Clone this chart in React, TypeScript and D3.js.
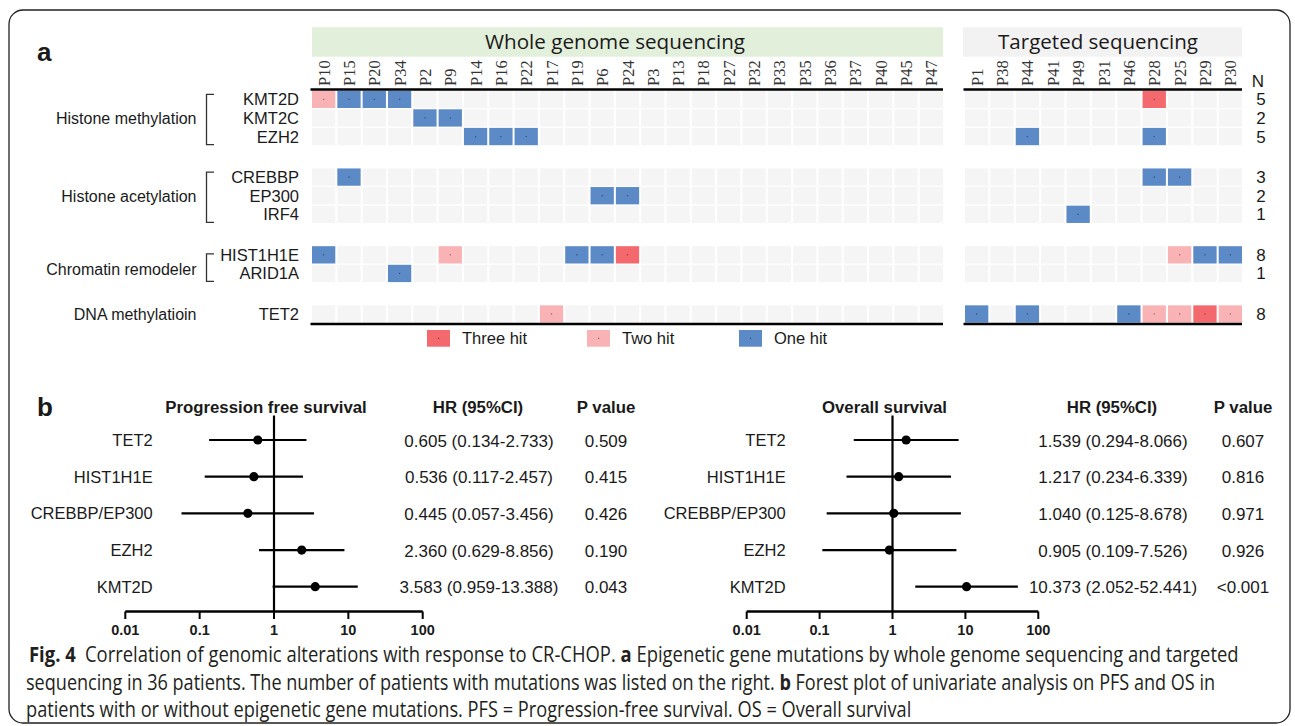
import React, { useLayoutEffect, useRef, useState } from "react";
import * as d3 from "d3";

// ---- heatmap data ----
const wgsPatients = ["P10", "P15", "P20", "P34", "P2", "P9", "P14", "P16", "P22", "P17", "P19", "P6", "P24", "P3", "P13", "P18", "P27", "P32", "P33", "P35", "P36", "P37", "P40", "P45", "P47"];
const tsPatients = ["P1", "P38", "P44", "P41", "P49", "P31", "P46", "P28", "P25", "P29", "P30"];
const genes = ["KMT2D", "KMT2C", "EZH2", "CREBBP", "EP300", "IRF4", "HIST1H1E", "ARID1A", "TET2"];
const geneGroup = [0, 0, 0, 1, 1, 1, 2, 2, 3];
const groups = ["Histone methylation", "Histone acetylation", "Chromatin remodeler", "DNA methylatioin"];
const groupHasBracket = [true, true, true, false];
const geneCounts = [5, 2, 5, 3, 2, 1, 8, 1, 8];

// [gene, patient, hits]
const mutations: [string, string, number][] = [
  ["KMT2D", "P10", 2], ["KMT2D", "P15", 1], ["KMT2D", "P20", 1], ["KMT2D", "P34", 1], ["KMT2D", "P28", 3],
  ["KMT2C", "P2", 1], ["KMT2C", "P9", 1],
  ["EZH2", "P14", 1], ["EZH2", "P16", 1], ["EZH2", "P22", 1], ["EZH2", "P44", 1], ["EZH2", "P28", 1],
  ["CREBBP", "P15", 1], ["CREBBP", "P28", 1], ["CREBBP", "P25", 1],
  ["EP300", "P6", 1], ["EP300", "P24", 1],
  ["IRF4", "P49", 1],
  ["HIST1H1E", "P10", 1], ["HIST1H1E", "P9", 2], ["HIST1H1E", "P19", 1], ["HIST1H1E", "P6", 1], ["HIST1H1E", "P24", 3],
  ["HIST1H1E", "P25", 2], ["HIST1H1E", "P29", 1], ["HIST1H1E", "P30", 1],
  ["ARID1A", "P34", 1],
  ["TET2", "P17", 2], ["TET2", "P1", 1], ["TET2", "P44", 1], ["TET2", "P46", 1], ["TET2", "P28", 2],
  ["TET2", "P25", 2], ["TET2", "P29", 3], ["TET2", "P30", 2],
];
const hitLabels = ["Three hit", "Two hit", "One hit"];
const hitLevels = [3, 2, 1];

// ---- forest plot data ----
const forestGenes = ["TET2", "HIST1H1E", "CREBBP/EP300", "EZH2", "KMT2D"];
const pfsHR = [0.605, 0.536, 0.445, 2.36, 3.583];
const pfsLow = [0.134, 0.117, 0.057, 0.629, 0.959];
const pfsHigh = [2.733, 2.457, 3.456, 8.856, 13.388];
const pfsP = ["0.509", "0.415", "0.426", "0.190", "0.043"];
const osHR = [1.539, 1.217, 1.04, 0.905, 10.373];
const osLow = [0.294, 0.234, 0.125, 0.109, 2.052];
const osHigh = [8.066, 6.339, 8.678, 7.526, 52.441];
const osP = ["0.607", "0.816", "0.971", "0.926", "<0.001"];
const axisTicks = [0.01, 0.1, 1, 10, 100];

const SANS = "Liberation Sans, Arimo, Arial, sans-serif";
const INK = "#1a1a1a";

const hitColor = d3.scaleOrdinal<number, string>().domain([3, 2, 1]).range(["#f4696e", "#f9b3b5", "#5b8ac6"]);

// columns
const xWgs = d3.scaleBand<string>().domain(wgsPatients).range([312, 943]).paddingInner(0.08).paddingOuter(0);
const xTs = d3.scaleBand<string>().domain(tsPatients).range([965, 1242]).paddingInner(0.08).paddingOuter(0);
// rows: slot index -> y (groups separated by an extra gap)
const rowSlot = d3.scaleLinear().domain([0, 1]).range([90.7, 109.3]);
const GROUP_GAP = 1.18;
const rowTop = (i: number) => rowSlot(i + geneGroup[i] * GROUP_GAP);
const CELL_H = 17.3;

const fmt3 = d3.format(".3f");
const hrText = (hr: number, lo: number, hi: number) => `${fmt3(hr)} (${fmt3(lo)}-${fmt3(hi)})`;

// squeezes a caption line horizontally to a given width (the original uses a condensed face)
function FitLine({ x, y, width, children }: { x: number; y: number; width: number; children: React.ReactNode }) {
  const ref = useRef<SVGTextElement>(null);
  const [k, setK] = useState(1);
  useLayoutEffect(() => {
    const w = ref.current ? ref.current.getComputedTextLength() : 0;
    if (w > 0) setK(width / w);
  }, [width]);
  return (
    <text ref={ref} x={0} y={0} transform={`translate(${x},${y}) scale(${k},1)`}>{children}</text>
  );
}

function Forest({ title, x, hr, lo, hi, pv, labelRight, hrCenter, pCenter }: {
  title: string; x: d3.ScaleLogarithmic<number, number>; hr: number[]; lo: number[]; hi: number[]; pv: string[];
  labelRight: number; hrCenter: number; pCenter: number;
}) {
  const y = d3.scalePoint<string>().domain(forestGenes).range([440, 586.7]);
  const axisY = 611.5;
  const [x0, x1] = x.range();
  return (
    <g>
      <text x={(x0 + x1) / 2 - 8} y={412.5} textAnchor="middle" fontWeight="bold" fontSize={16.8} fill={INK}>{title}</text>
      <text x={hrCenter - 1} y={412.5} textAnchor="middle" fontWeight="bold" fontSize={16.8} fill={INK}>HR (95%CI)</text>
      <text x={pCenter} y={412.5} textAnchor="middle" fontWeight="bold" fontSize={16.8} fill={INK}>P value</text>
      <line x1={x(1)} x2={x(1)} y1={415.5} y2={axisY} stroke="#000" strokeWidth={2.2} />
      {forestGenes.map((g, i) => (
        <g key={g}>
          <text x={labelRight} y={y(g)! + 6} textAnchor="end" fontSize={16.5} fill={INK}>{g}</text>
          <line x1={x(lo[i])} x2={x(hi[i])} y1={y(g)} y2={y(g)} stroke="#000" strokeWidth={2.2} />
          <circle cx={x(hr[i])} cy={y(g)} r={4.6} fill="#000" />
          <text x={hrCenter} y={y(g)! + 6.5} textAnchor="middle" fontSize={17} fill={INK}>{hrText(hr[i], lo[i], hi[i])}</text>
          <text x={pCenter} y={y(g)! + 6.5} textAnchor="middle" fontSize={17} fill={INK}>{pv[i]}</text>
        </g>
      ))}
      <line x1={x0} x2={x1} y1={axisY} y2={axisY} stroke="#000" strokeWidth={2.6} />
      {axisTicks.map((t) => (
        <g key={t}>
          <line x1={x(t)} x2={x(t)} y1={axisY} y2={axisY + 7.5} stroke="#000" strokeWidth={2} />
          <text x={x(t)} y={635} textAnchor="middle" fontWeight="bold" fontSize={14.5} fill={INK}>{String(t)}</text>
        </g>
      ))}
    </g>
  );
}

export default function App() {
  const cellKey = new Map(mutations.map(([g, p, h]) => [`${g}|${p}`, h]));
  const blocks: { patients: string[]; x: d3.ScaleBand<string> }[] = [
    { patients: wgsPatients, x: xWgs },
    { patients: tsPatients, x: xTs },
  ];
  const xPfs = d3.scaleLog().domain([0.01, 100]).range([125.3, 422.7]);
  const xOs = d3.scaleLog().domain([0.01, 100]).range([746.7, 1038.3]);

  const groupRows = groups.map((_, gi) => genes.map((_, i) => i).filter((i) => geneGroup[i] === gi));
  const lastRowBottom = rowTop(genes.length - 1) + CELL_H;

  return (
    <svg width={1295} height={726} style={{ position: "absolute", left: 0, top: 0, background: "#fff", fontFamily: SANS }}>
      <rect x={9} y={10} width={1281} height={713} rx={14} fill="#fff" stroke="#222" strokeWidth={1.3} />

      {/* panel a */}
      <text x={37} y={61} fontSize={26} fontWeight="bold" fill={INK}>a</text>
      <rect x={312} y={27.3} width={631} height={29.4} fill="#e2efda" />
      <text x={615} y={49} textAnchor="middle" style={{ fontFamily: "Open Sans, sans-serif" }} fontSize={20} textLength={260} lengthAdjust="spacingAndGlyphs" fill={INK}>Whole genome sequencing</text>
      <rect x={963} y={27.3} width={279} height={29.4} fill="#f2f2f2" />
      <text x={1098} y={49} textAnchor="middle" style={{ fontFamily: "Open Sans, sans-serif" }} fontSize={20} textLength={200} lengthAdjust="spacingAndGlyphs" fill={INK}>Targeted sequencing</text>

      {blocks.map(({ patients, x }, bi) => (
        <g key={bi}>
          {patients.map((p) => {
            const cx = x(p)! + x.bandwidth() / 2 + 6;
            return (
              <text key={p} x={cx} y={86} transform={`rotate(-90, ${cx}, 86)`} style={{ fontFamily: "Liberation Serif, serif" }} fontSize={16.5} fill="#333">{p}</text>
            );
          })}
          {genes.map((g, gi) =>
            patients.map((p) => {
              const h = cellKey.get(`${g}|${p}`);
              const x0 = x(p)!;
              const y0 = rowTop(gi);
              return (
                <g key={`${g}-${p}`}>
                  <rect x={x0} y={y0} width={x.bandwidth()} height={CELL_H} fill={h ? hitColor(h) : "#f5f5f5"} />
                  {h ? <rect x={x0 + x.bandwidth() / 2 - 0.6} y={y0 + CELL_H / 2 - 0.6} width={1.2} height={1.2} fill="rgba(0,0,0,0.45)" /> : null}
                </g>
              );
            })
          )}
          <line x1={x.range()[0] - 1.5} x2={x.range()[1]} y1={89.5} y2={89.5} stroke="#000" strokeWidth={2.6} />
          <line x1={x.range()[0] - 1.5} x2={x.range()[1]} y1={lastRowBottom + 1.3} y2={lastRowBottom + 1.3} stroke="#000" strokeWidth={2.6} />
        </g>
      ))}

      {/* gene labels and counts */}
      {genes.map((g, i) => (
        <g key={g}>
          <text x={299} y={rowTop(i) + CELL_H / 2 + 6} textAnchor="end" fontSize={16.5} fill={INK}>{g}</text>
          <text x={1261} y={rowTop(i) + CELL_H / 2 + 6} textAnchor="middle" fontSize={17} fill={INK}>{geneCounts[i]}</text>
        </g>
      ))}
      <text x={1258} y={87} textAnchor="middle" fontSize={17} fill={INK}>N</text>

      {/* group labels with brackets */}
      {groups.map((name, gi) => {
        const rows = groupRows[gi];
        const top = rowTop(rows[0]) + CELL_H / 2;
        const bot = rowTop(rows[rows.length - 1]) + CELL_H / 2;
        const mid = (top + bot) / 2 + (rows.length === 2 ? 5 : 0);
        const bTop = rows.length === 2 ? top - 1 : top - 5;
        const bBot = bot + 8;
        return (
          <g key={name}>
            <text x={196.5} y={mid + 6} textAnchor="end" fontSize={16} fill={INK}>{name}</text>
            {groupHasBracket[gi] ? (
              <path d={`M214,${bTop}H206.5V${bBot}H214`} fill="none" stroke="#333" strokeWidth={1.3} />
            ) : null}
          </g>
        );
      })}

      {/* legend */}
      {hitLevels.map((h, i) => {
        const lx = [427, 587, 739][i];
        return (
          <g key={h}>
            <rect x={lx} y={330} width={23} height={16.7} fill={hitColor(h)} />
            <rect x={lx + 11} y={337.8} width={1.2} height={1.2} fill="rgba(0,0,0,0.45)" />
            <text x={lx + 35} y={344} fontSize={16.5} fill={INK}>{hitLabels[i]}</text>
          </g>
        );
      })}

      {/* panel b */}
      <text x={37} y={416} fontSize={26} fontWeight="bold" fill={INK}>b</text>
      <Forest title="Progression free survival" x={xPfs} hr={pfsHR} lo={pfsLow} hi={pfsHigh} pv={pfsP} labelRight={152.7} hrCenter={479} pCenter={606} />
      <Forest title="Overall survival" x={xOs} hr={osHR} lo={osLow} hi={osHigh} pv={osP} labelRight={785.7} hrCenter={1113} pCenter={1243} />

      {/* caption */}
      <g style={{ fontFamily: "Open Sans, sans-serif" }} fontSize={21} fill="#231f20">
        <FitLine x={29} y={662} width={1210}>
          <tspan fontWeight="bold">Fig. 4</tspan>
          <tspan>{"\u2002Correlation of genomic alterations with response to CR-CHOP. "}</tspan>
          <tspan fontWeight="bold">a</tspan>
          <tspan> Epigenetic gene mutations by whole genome sequencing and targeted</tspan>
        </FitLine>
        <FitLine x={26} y={690} width={1190}>
          <tspan>sequencing in 36 patients. The number of patients with mutations was listed on the right. </tspan>
          <tspan fontWeight="bold">b</tspan>
          <tspan> Forest plot of univariate analysis on PFS and OS in</tspan>
        </FitLine>
        <FitLine x={26} y={717} width={886}>
          patients with or without epigenetic gene mutations. PFS = Progression-free survival. OS = Overall survival
        </FitLine>
      </g>
    </svg>
  );
}
